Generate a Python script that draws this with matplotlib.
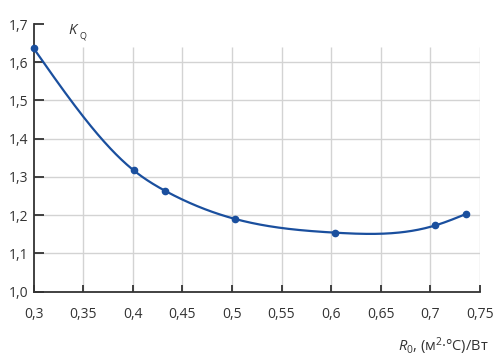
import numpy as np
import matplotlib
matplotlib.use("Agg")
import matplotlib.pyplot as plt

plt.rcParams['font.family'] = ['Open Sans', 'DejaVu Sans']
plt.rcParams['mathtext.fontset'] = 'custom'
plt.rcParams['mathtext.rm'] = 'Open Sans'
plt.rcParams['mathtext.it'] = 'Open Sans:italic'

r0 = [0.300, 0.401, 0.433, 0.503, 0.604, 0.705, 0.736]
kq = [1.637, 1.317, 1.263, 1.190, 1.154, 1.173, 1.203]
xticks = [0.3, 0.35, 0.4, 0.45, 0.5, 0.55, 0.6, 0.65, 0.7, 0.75]
yticks = [1.0, 1.1, 1.2, 1.3, 1.4, 1.5, 1.6, 1.7]

def fmt(v):
    s = ('%.2f' % v).rstrip('0')
    if s.endswith('.'):
        s += '0'
    return s.replace('.', ',')

def natural_spline(x, y, n=400):
    x = np.asarray(x, float); y = np.asarray(y, float)
    m = len(x); h = np.diff(x)
    A = np.zeros((m, m)); b = np.zeros(m)
    A[0, 0] = A[-1, -1] = 1
    for i in range(1, m - 1):
        A[i, i - 1] = h[i - 1]; A[i, i] = 2 * (h[i - 1] + h[i]); A[i, i + 1] = h[i]
        b[i] = 3 * ((y[i + 1] - y[i]) / h[i] - (y[i] - y[i - 1]) / h[i - 1])
    c = np.linalg.solve(A, b)
    xs = np.linspace(x[0], x[-1], n); ys = np.empty_like(xs)
    for k, t in enumerate(xs):
        i = min(np.searchsorted(x, t, side='right') - 1, m - 2)
        d = t - x[i]
        bi = (y[i + 1] - y[i]) / h[i] - h[i] * (c[i + 1] + 2 * c[i]) / 3
        di = (c[i + 1] - c[i]) / (3 * h[i])
        ys[k] = y[i] + bi * d + c[i] * d ** 2 + di * d ** 3
    return xs, ys

fig = plt.figure(figsize=(5.0, 3.59), dpi=100)
ax = fig.add_axes([0.067, 0.188, 0.893, 0.745])
ax.set_xlim(0.3, 0.75)
ax.set_ylim(1.0, 1.7)

grid_c = '#d3d3d3'
ax.vlines(xticks[1:], 1.0, 1.64, colors=grid_c, lw=1.0, zorder=1)
ax.hlines(yticks[1:-1], 0.3, 0.75, colors=grid_c, lw=1.0, zorder=1)

line_c = '#1a4f9e'
xs, ys = natural_spline(r0, kq)
ax.plot(xs, ys, color=line_c, lw=1.6, zorder=3, clip_on=False)
ax.plot(r0, kq, 'o', color=line_c, ms=4.5, zorder=4, clip_on=False)

for s in ['top', 'right']:
    ax.spines[s].set_visible(False)
for s in ['left', 'bottom']:
    ax.spines[s].set_color('#333333')
    ax.spines[s].set_linewidth(1.3)

ax.set_xticks(xticks)
ax.set_xticklabels([fmt(v) for v in xticks])
ax.set_yticks(yticks)
ax.set_yticklabels([fmt(v) for v in yticks])
ax.tick_params(axis='y', direction='in', length=7, width=1.3, color='#333333',
               labelsize=10, pad=4, labelcolor='#333333')
ax.tick_params(axis='x', direction='in', length=5, width=1.3, color='#333333',
               labelsize=10, pad=11, labelcolor='#333333')

fig.text(68 / 500, 1 - 31 / 359, r'$K$', fontsize=10.5, color='#333333', va='center', ha='left')
fig.text(80 / 500, 1 - 36 / 359, 'Q', fontsize=6.5, color='#333333', va='center', ha='left')
fig.text(489 / 500, 1 - 346 / 359, r'$R_{\mathrm{0}}$, (м$^{\mathrm{2}}$·°C)/Вт', fontsize=10.5,
         color='#333333', va='center', ha='right')

fig.savefig('out.png', dpi=100)
